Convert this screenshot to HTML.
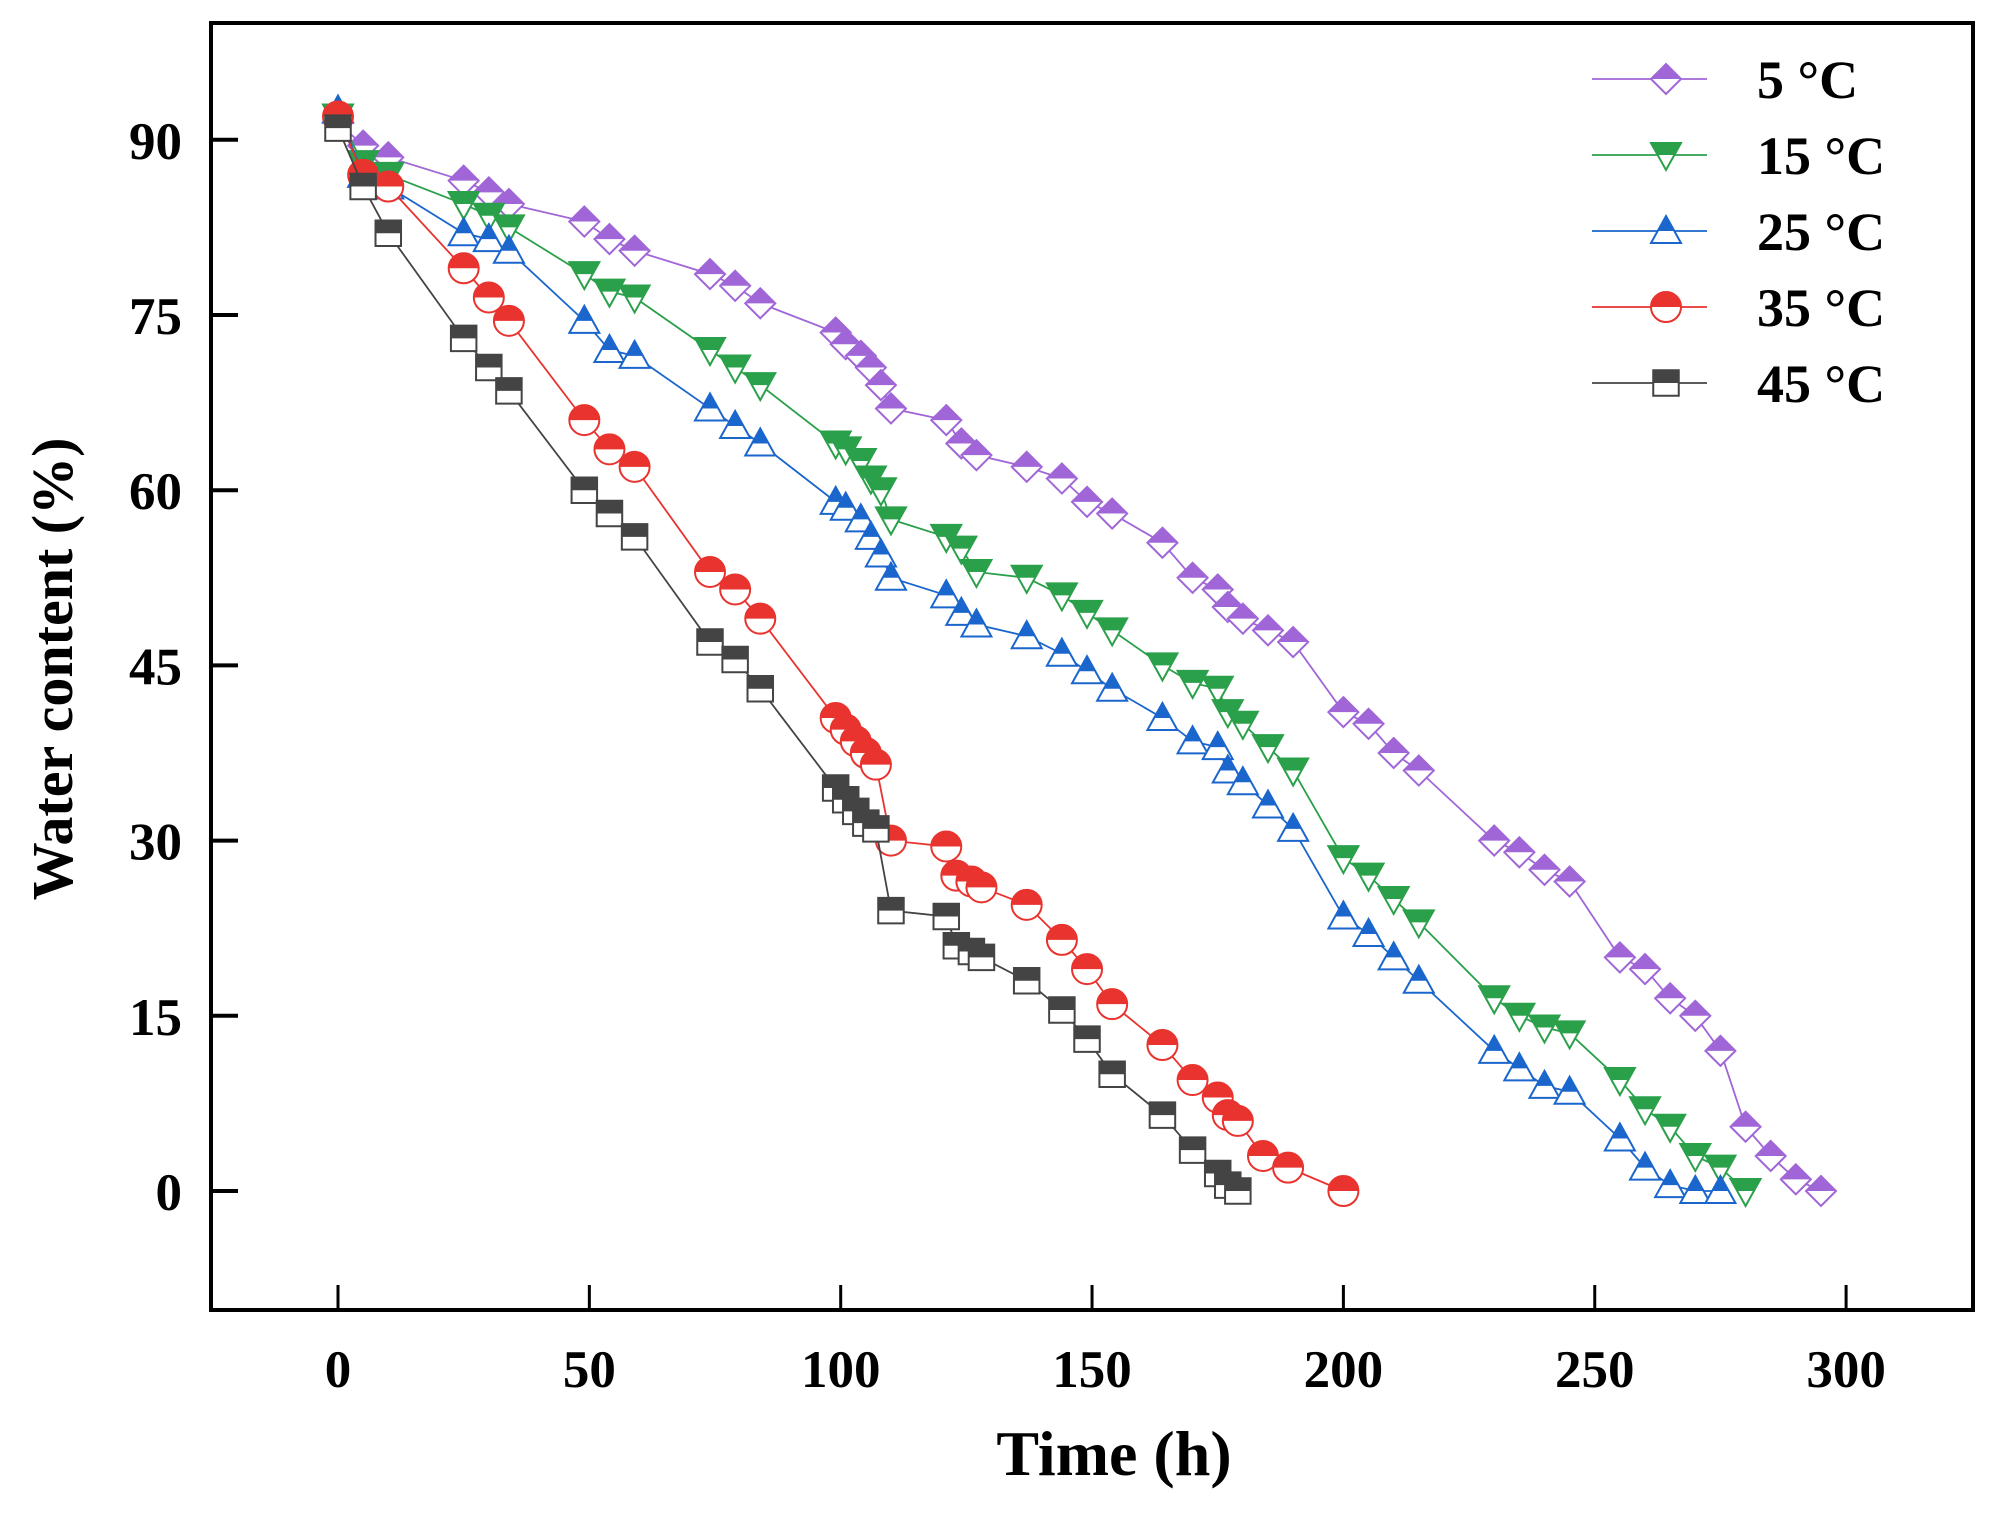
<!DOCTYPE html>
<html><head><meta charset="utf-8"><style>
html,body{margin:0;padding:0;background:#fff}
svg text{font-family:"Liberation Serif",serif;font-weight:bold;fill:#000}
</style></head><body>
<svg id="s" width="1997" height="1521" xmlns="http://www.w3.org/2000/svg">
<rect x="211" y="23" width="1762" height="1287" fill="none" stroke="#000" stroke-width="4"/>
<g id="ax"></g>
<g id="data"></g>
<text x="1114" y="1475" font-size="64" text-anchor="middle">Time (h)</text>
<text transform="translate(72,669) rotate(-90)" font-size="58" text-anchor="middle">Water content  (%)</text>
</svg>
<script>
const NS="http://www.w3.org/2000/svg";
const X=t=>338+t*5.027, Y=v=>1191-v*11.68;
function el(tag,attrs,parent,txt){const e=document.createElementNS(NS,tag);for(const k in attrs)e.setAttribute(k,attrs[k]);if(txt!==undefined)e.textContent=txt;parent.appendChild(e);return e;}
const ax=document.getElementById('ax'), dg=document.getElementById('data');
for(let v=0;v<=90;v+=15){el('line',{x1:211,x2:238,y1:Y(v),y2:Y(v),stroke:'#000','stroke-width':4},ax);
 el('text',{x:182,y:Y(v)+19,'font-size':53,'text-anchor':'end'},ax,String(v));}
for(let t=0;t<=300;t+=50){el('line',{x1:X(t),x2:X(t),y1:1310,y2:1285,stroke:'#000','stroke-width':3},ax);
 el('text',{x:X(t),y:1387,'font-size':53,'text-anchor':'middle'},ax,String(t));}
const S=[
{c:'#a066d8',m:'d',l:'5 °C',d:[[0,91.5],[5,89.5],[10,88.5],[25,86.5],[30,85.5],[34,84.5],[49,83],[54,81.5],[59,80.5],[74,78.5],[79,77.5],[84,76],[99,73.5],[101,72.5],[104,71.5],[106,70.5],[108,69],[110,67],[121,66],[124,64],[127,63],[137,62],[144,61],[149,59],[154,58],[164,55.5],[170,52.5],[175,51.5],[177,50],[180,49],[185,48],[190,47],[200,41],[205,40],[210,37.5],[215,36],[230,30],[235,29],[240,27.5],[245,26.5],[255,20],[260,19],[265,16.5],[270,15],[275,12],[280,5.5],[285,3],[290,1],[295,0]]},
{c:'#2aa04a',m:'v',l:'15 °C',d:[[0,92],[5,88],[10,87],[25,84.5],[30,83.5],[34,82.5],[49,78.5],[54,77],[59,76.5],[74,72],[79,70.5],[84,69],[99,64],[101,63.5],[104,62.5],[106,61],[108,60],[110,57.5],[121,56],[124,55],[127,53],[137,52.5],[144,51],[149,49.5],[154,48],[164,45],[170,43.5],[175,43],[177,41],[180,40],[185,38],[190,36],[200,28.5],[205,27],[210,25],[215,23],[230,16.5],[235,15],[240,14],[245,13.5],[255,9.5],[260,7],[265,5.5],[270,3],[275,2],[280,0]]},
{c:'#1a66cc',m:'^',l:'25 °C',d:[[0,92.5],[5,87],[10,86],[25,82],[30,81.5],[34,80.5],[49,74.5],[54,72],[59,71.5],[74,67],[79,65.5],[84,64],[99,59],[101,58.5],[104,57.5],[106,56],[108,54.5],[110,52.5],[121,51],[124,49.5],[127,48.5],[137,47.5],[144,46],[149,44.5],[154,43],[164,40.5],[170,38.5],[175,38],[177,36],[180,35],[185,33],[190,31],[200,23.5],[205,22],[210,20],[215,18],[230,12],[235,10.5],[240,9],[245,8.5],[255,4.5],[260,2],[265,0.5],[270,0],[275,0]]},
{c:'#e8332e',m:'o',l:'35 °C',d:[[0,92],[5,87],[10,86],[25,79],[30,76.5],[34,74.5],[49,66],[54,63.5],[59,62],[74,53],[79,51.5],[84,49],[99,40.5],[101,39.5],[103,38.5],[105,37.5],[107,36.5],[110,30],[121,29.5],[123,27],[126,26.5],[128,26],[137,24.5],[144,21.5],[149,19],[154,16],[164,12.5],[170,9.5],[175,8],[177,6.5],[179,6],[184,3],[189,2],[200,0]]},
{c:'#444',m:'s',l:'45 °C',d:[[0,91],[5,86],[10,82],[25,73],[30,70.5],[34,68.5],[49,60],[54,58],[59,56],[74,47],[79,45.5],[84,43],[99,34.5],[101,33.5],[103,32.5],[105,31.5],[107,31],[110,24],[121,23.5],[123,21],[126,20.5],[128,20],[137,18],[144,15.5],[149,13],[154,10],[164,6.5],[170,3.5],[175,1.5],[177,0.5],[179,0]]}
];
const r=15;
function marker(x,y,m,c,g){
 let full,top;
 if(m=='d'){full=`${x},${y-r} ${x+r},${y} ${x},${y+r} ${x-r},${y}`;top=`${x},${y-r} ${x+r},${y} ${x-r},${y}`;}
 else if(m=='v'){full=`${x-r},${y-r*0.8} ${x+r},${y-r*0.8} ${x},${y+r}`;top=`${x-r},${y-r*0.8} ${x+r},${y-r*0.8} ${x+r*0.56},${y} ${x-r*0.56},${y}`;}
 else if(m=='^'){full=`${x},${y-r} ${x+r},${y+r*0.8} ${x-r},${y+r*0.8}`;top=`${x},${y-r} ${x+r*0.56},${y} ${x-r*0.56},${y}`;}
 else if(m=='s'){full=`${x-r*0.85},${y-r*0.85} ${x+r*0.85},${y-r*0.85} ${x+r*0.85},${y+r*0.85} ${x-r*0.85},${y+r*0.85}`;top=`${x-r*0.85},${y-r*0.85} ${x+r*0.85},${y-r*0.85} ${x+r*0.85},${y} ${x-r*0.85},${y}`;}
 if(m=='o'){el('circle',{cx:x,cy:y,r:r,fill:'#fff',stroke:c,'stroke-width':2},g);
  el('path',{d:`M${x-r},${y} A${r},${r} 0 0 1 ${x+r},${y} Z`,fill:c},g);}
 else{el('polygon',{points:full,fill:'#fff',stroke:c,'stroke-width':2},g);el('polygon',{points:top,fill:c},g);}
}
S.forEach((s,i)=>{
 el('polyline',{points:s.d.map(p=>X(p[0])+','+Y(p[1])).join(' '),fill:'none',stroke:s.c,'stroke-width':1.8},dg);
 s.d.forEach(p=>marker(X(p[0]),Y(p[1]),s.m,s.c,dg));
 const ly=79+i*76;
 el('line',{x1:1592,x2:1707,y1:ly,y2:ly,stroke:s.c,'stroke-width':1.8},dg);
 marker(1666,ly,s.m,s.c,dg);
 el('text',{x:1757,y:ly+19,'font-size':54},dg,s.l);
});
</script>
</body></html>
